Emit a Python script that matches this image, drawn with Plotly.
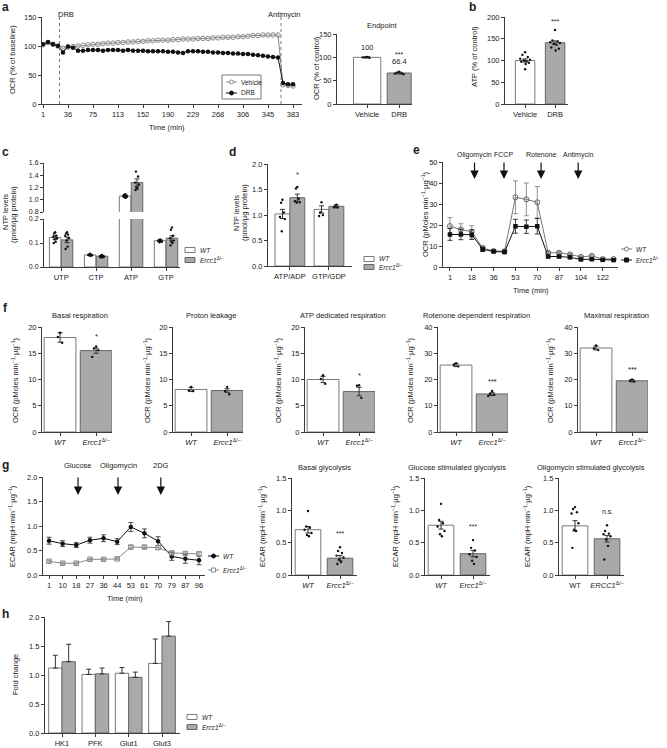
import plotly.graph_objects as go

W, H = 667, 748
FONT = "Liberation Sans, Arial, Helvetica, sans-serif"
AX = "#3c3c3c"
TXT = "#222222"
FS = 7.5
WT_FILL, WT_LINE = "white", "#7a7a7a"
KO_FILL, KO_LINE = "#a9a9a9", "#666666"
KO = "<i>Ercc1</i><sup>Δ/−</sup>"
WT = "<i>WT</i>"

# ---------------- DATA ----------------
# a : OCR time course (% of baseline), one reading per index
a_tick_labels = ["1", "36", "75", "113", "152", "190", "229", "268", "306", "345", "383"]
a_vehicle = [102, 106, 103, 100, 96, 98, 99, 100, 101, 102, 103, 103, 104, 105, 105, 106, 106,
             107, 107, 108, 108, 109, 109, 110, 110, 110, 111, 111, 112, 112, 112, 113, 113, 113,
             114, 114, 115, 115, 115, 116, 116, 117, 118, 118, 119, 119, 119, 119, 33, 32, 31]
a_drb = [103, 107, 103, 100, 89, 99, 97, 92, 92, 93, 93, 93, 92, 93, 93, 93, 92, 93, 92, 92,
         92, 91, 91, 91, 91, 90, 90, 89, 88, 91, 91, 91, 90, 90, 89, 89, 88, 88, 87, 87, 86,
         86, 85, 84, 83, 82, 81, 80, 36, 34, 34]
a_event_names = ["DRB", "Antimycin"]
a_event_index = [3.3, 47.6]

end_groups = ["Vehicle", "DRB"]
end_values = [100, 66.4]
end_err = [1.5, 2.0]
end_dots = [[101, 100, 99, 100], [69, 67, 66, 65, 64]]

# b : ATP
b_groups = ["Vehicle", "DRB"]
b_values = [100, 141]
b_err = [3.5, 4.0]
b_dots = [[119, 113, 108, 104, 102, 100, 98, 97, 95, 92, 80],
          [170, 146, 144, 142, 140, 138, 136, 130, 127, 123]]

# c : NTP levels
c_cats = ["UTP", "CTP", "ATP", "GTP"]
c_wt = [0.123, 0.050, 1.06, 0.110]
c_wt_err = [0.008, 0.002, 0.015, 0.004]
c_ko = [0.113, 0.045, 1.28, 0.120]
c_ko_err = [0.012, 0.002, 0.06, 0.010]
c_wt_dots = [[0.145, 0.14, 0.13, 0.125, 0.12, 0.115, 0.105, 0.10],
             [0.055, 0.052, 0.05, 0.05, 0.049, 0.048, 0.047],
             [1.09, 1.08, 1.07, 1.06, 1.05, 1.04, 1.03],
             [0.115, 0.112, 0.11, 0.108, 0.105, 0.103]]
c_ko_dots = [[0.145, 0.14, 0.135, 0.13, 0.12, 0.11, 0.085, 0.075],
             [0.05, 0.048, 0.046, 0.045, 0.043, 0.042, 0.04, 0.04],
             [1.67, 1.46, 1.38, 1.28, 1.25, 1.2, 1.18, 1.16],
             [0.165, 0.155, 0.13, 0.12, 0.11, 0.105, 0.10, 0.09]]

# d : ratios
d_cats = ["ATP/ADP", "GTP/GDP"]
d_wt = [1.02, 1.11]
d_wt_err = [0.09, 0.07]
d_ko = [1.34, 1.17]
d_ko_err = [0.07, 0.03]
d_wt_dots = [[1.30, 1.24, 1.05, 0.96, 0.92, 0.68], [1.25, 1.05, 1.0, 0.98]]
d_ko_dots = [[1.55, 1.52, 1.32, 1.27, 1.25, 1.24], [1.20, 1.17, 1.15, 1.15]]

# e : OCR mito stress test
e_tick_labels = ["1", "18", "36", "53", "70", "87", "104", "122"]
e_wt = [19.5, 17.8, 16.8, 9.0, 7.6, 7.5, 33.2, 32.2, 30.8, 6.8, 6.8, 6.0, 4.8, 5.3, 3.8, 3.8]
e_wt_err = [4.0, 2.8, 2.9, 1.0, 0.6, 0.8, 7.8, 7.8, 7.5, 0.6, 0.5, 0.5, 0.5, 0.5, 0.3, 0.3]
e_ko = [15.5, 15.5, 15.4, 8.4, 7.4, 7.1, 19.4, 19.2, 19.4, 5.0, 5.0, 4.6, 3.6, 3.7, 3.4, 3.3]
e_ko_err = [2.8, 2.5, 2.3, 1.0, 0.5, 0.6, 3.3, 3.2, 3.7, 0.6, 0.6, 0.5, 0.4, 0.4, 0.3, 0.3]
e_inj_names = ["Oligomycin", "FCCP", "Rotenone", "Antimycin"]
e_inj_index = [2.25, 4.95, 8.35, 11.75]

# f : respiration parameters
f_titles = ["Basal respiration", "Proton leakage", "ATP dedicated respiration",
            "Rotenone dependent respiration", "Maximal respiration"]
f_ymax = [20, 20, 20, 40, 40]
f_wt = [18.0, 8.1, 10.0, 25.5, 32.0]
f_wt_err = [0.9, 0.4, 0.6, 0.6, 0.7]
f_ko = [15.5, 7.9, 7.7, 14.5, 19.5]
f_ko_err = [0.5, 0.35, 0.8, 0.6, 0.4]
f_wt_dots = [[18.9, 18.1, 17.0], [8.6, 7.9, 7.8], [10.8, 10.1, 9.2], [26.2, 25.5, 25.0], [33.0, 31.8, 31.2]]
f_ko_dots = [[16.3, 15.9, 15.6, 14.3], [8.6, 7.8, 7.2], [8.9, 8.8, 6.5], [15.6, 14.5, 14.2, 13.7], [20.0, 19.5, 19.2]]
f_sig = ["*", "", "*", "***", "***"]

# g : ECAR
g_tick_labels = ["1", "10", "18", "27", "36", "44", "53", "61", "70", "79", "87", "96"]
g_wt = [0.70, 0.64, 0.61, 0.71, 0.75, 0.68, 0.98, 0.85, 0.69, 0.38, 0.33, 0.30]
g_wt_err = [0.07, 0.06, 0.05, 0.06, 0.07, 0.06, 0.09, 0.09, 0.09, 0.08, 0.09, 0.09]
g_ko = [0.28, 0.24, 0.24, 0.32, 0.32, 0.33, 0.57, 0.57, 0.56, 0.45, 0.44, 0.43]
g_ko_err = [0.02, 0.02, 0.02, 0.02, 0.02, 0.02, 0.03, 0.03, 0.04, 0.03, 0.03, 0.04]
g_inj_names = ["Glucose", "Oligomycin", "2DG"]
g_inj_index = [2.13, 5.06, 8.2]

gb_titles = ["Basal glycolysis", "Glucose stimulated glycolysis", "Oligomycin stimulated glycolysis"]
gb_wt = [0.70, 0.77, 0.76]
gb_wt_err = [0.05, 0.06, 0.08]
gb_ko = [0.26, 0.33, 0.56]
gb_ko_err = [0.04, 0.05, 0.05]
gb_wt_dots = [[0.99, 0.75, 0.73, 0.70, 0.65, 0.62, 0.60],
              [1.10, 0.85, 0.80, 0.75, 0.68, 0.63, 0.60],
              [1.05, 1.02, 0.97, 0.95, 0.80, 0.70, 0.68, 0.42]]
gb_ko_dots = [[0.43, 0.37, 0.34, 0.30, 0.27, 0.24, 0.20, 0.17],
              [0.54, 0.42, 0.38, 0.32, 0.28, 0.22, 0.17],
              [0.77, 0.68, 0.64, 0.63, 0.60, 0.55, 0.45, 0.24]]
gb_sig = ["***", "***", "n.s."]
gb_xlabels = [[WT, KO], [WT, KO], ["WT", "<i>ERCC1</i><sup>Δ/−</sup>"]]

# h : fold change
h_cats = ["HK1", "PFK", "Glut1", "Glut3"]
h_wt = [1.12, 1.01, 1.03, 1.20]
h_wt_err = [0.22, 0.09, 0.10, 0.42]
h_ko = [1.23, 1.02, 0.96, 1.67]
h_ko_err = [0.30, 0.10, 0.09, 0.25]

# ---------------- HELPERS ----------------
fig = go.Figure()
layout = {}
annotations = []
shapes = []


def X(p):
    return p / W


def Y(p):
    return 1 - p / H


def xr(n):
    return "x" if n == 1 else f"x{n}"


def yr(n):
    return "y" if n == 1 else f"y{n}"


def xk(n):
    return "xaxis" if n == 1 else f"xaxis{n}"


def yk(n):
    return "yaxis" if n == 1 else f"yaxis{n}"


BASE = dict(showline=True, linecolor=AX, linewidth=1, ticks="outside", ticklen=3,
            tickwidth=1, tickcolor=AX, showgrid=False, zeroline=False, fixedrange=True,
            automargin=False,
            tickfont=dict(size=FS, color=TXT, family=FONT))


def axes(n, x0, x1, ytop, ybot, xrange, yrange, xtv=None, xtt=None, ytv=None, ytt=None,
         yfmt=None, xfont=FS):
    xa = dict(BASE, domain=[X(x0), X(x1)], range=xrange, anchor=yr(n))
    xa["tickfont"] = dict(size=xfont, color=TXT, family=FONT)
    if xtv is not None:
        xa.update(tickmode="array", tickvals=xtv, ticktext=xtt)
    ya = dict(BASE, domain=[Y(ybot), Y(ytop)], range=yrange, anchor=xr(n))
    if ytv is not None:
        ya.update(tickmode="array", tickvals=ytv)
        if ytt is not None:
            ya["ticktext"] = ytt
    if yfmt:
        ya["tickformat"] = yfmt
    layout[xk(n)] = xa
    layout[yk(n)] = ya


def txt(x, y, s, size=FS, angle=0, bold=False, xanchor="center", color=TXT):
    if bold:
        s = f"<b>{s}</b>"
    annotations.append(dict(x=X(x), y=Y(y), xref="paper", yref="paper", text=s, showarrow=False,
                            textangle=angle, xanchor=xanchor, yanchor="middle",
                            font=dict(size=size, family=FONT, color=color)))


def bar(n, xs, vals, errs, fill, line, width, sym=True, ny=None):
    yax = yr(ny if ny else n)
    ey = dict(type="data", array=errs, thickness=1, width=2.5, color="#333")
    if not sym:
        ey.update(symmetric=False, arrayminus=[0] * len(errs))
    fig.add_trace(go.Bar(x=xs, y=vals, width=width, xaxis=xr(n), yaxis=yax,
                         marker=dict(color=fill, line=dict(color=line, width=1)),
                         error_y=ey, showlegend=False))


JIT = [0, -0.5, 0.5, -0.9, 0.9, -0.25, 0.25, -0.7, 0.7, 0.1]


def dots(n, center, vals, spread, ny=None):
    xs = [center + JIT[i % len(JIT)] * spread for i in range(len(vals))]
    fig.add_trace(go.Scatter(x=xs, y=vals, mode="markers", xaxis=xr(n), yaxis=yr(ny if ny else n),
                             marker=dict(size=2.4, color="#111"), showlegend=False, hoverinfo="skip"))


def sig(n, x, y, s, size=FS, anchor="bottom"):
    annotations.append(dict(x=x, y=y, xref=xr(n), yref=yr(n), text=s, showarrow=False,
                            yanchor=anchor, font=dict(size=size, family=FONT, color=TXT)))


def arrow(n, x, ytip, length=18):
    annotations.append(dict(x=x, y=Y(ytip), xref=xr(n), yref="paper", text="", showarrow=True,
                            ax=0, ay=-length, arrowhead=2, arrowsize=1.4, arrowwidth=1.2,
                            arrowcolor="#111"))


# legend keys drawn as decorations (pixel positions of the key, not data)
def key_line(x, y, label, color, symbol, filled):
    shapes.append(dict(type="line", xref="paper", yref="paper", x0=X(x), x1=X(x + 11),
                       y0=Y(y), y1=Y(y), line=dict(color=color, width=1)))
    r = 2
    shp = "circle" if symbol == "circle" else "rect"
    shapes.append(dict(type=shp, xref="paper", yref="paper", x0=X(x + 5.5 - r), x1=X(x + 5.5 + r),
                       y0=Y(y + r), y1=Y(y - r), line=dict(color=color, width=1),
                       fillcolor=color if filled else "white"))
    annotations.append(dict(x=X(x + 13), y=Y(y), xref="paper", yref="paper", text=label,
                            showarrow=False, xanchor="left", yanchor="middle",
                            font=dict(size=6.5, family=FONT, color=TXT)))


def key_box(x, y, label, fill, line):
    shapes.append(dict(type="rect", xref="paper", yref="paper", x0=X(x), x1=X(x + 10),
                       y0=Y(y + 2.5), y1=Y(y - 2.5), line=dict(color=line, width=1), fillcolor=fill))
    annotations.append(dict(x=X(x + 13), y=Y(y), xref="paper", yref="paper", text=label,
                            showarrow=False, xanchor="left", yanchor="middle",
                            font=dict(size=6.5, family=FONT, color=TXT)))


OCR_T = "OCR (pMoles min<sup>−1</sup>·µg<sup>−1</sup>)"
ECAR_T = "ECAR (mpH·min<sup>−1</sup>·µg<sup>−1</sup>)"

# ---------------- PANEL a ----------------
idx = list(range(len(a_vehicle)))
axes(1, 42, 302, 17, 104, [-0.2, 51.8], [0, 150],
     xtv=list(range(0, len(a_tick_labels) * 5, 5)), xtt=a_tick_labels, ytv=[0, 50, 100, 150])
fig.add_trace(go.Scatter(x=idx, y=a_vehicle, mode="lines+markers", showlegend=False,
                         line=dict(color="#8a8a8a", width=1),
                         marker=dict(symbol="circle-open", size=4.5, color="#8a8a8a", line=dict(width=1))))
fig.add_trace(go.Scatter(x=idx, y=a_drb, mode="lines+markers", showlegend=False,
                         line=dict(color="#111", width=1),
                         marker=dict(symbol="circle", size=4.5, color="#111")))
for nm, ev in zip(a_event_names, a_event_index):
    shapes.append(dict(type="line", xref="x", yref="paper", x0=ev, x1=ev, y0=Y(104), y1=Y(13),
                       line=dict(color="#777", width=1, dash="dot")))
    annotations.append(dict(x=ev, y=Y(8), xref="x", yref="paper", text=nm, showarrow=False,
                            xanchor="center", xshift=6 if nm == "DRB" else 3,
                            font=dict(size=FS, family=FONT, color=TXT)))
shapes.append(dict(type="rect", xref="paper", yref="paper", x0=X(222), x1=X(261), y0=Y(99), y1=Y(75),
                   line=dict(color="#777", width=1), fillcolor="white"))
key_line(226, 82, "Vehicle", "#8a8a8a", "circle", False)
key_line(226, 93, "DRB", "#111", "circle", True)
txt(13, 60, "OCR (% of baseline)", angle=-90)
txt(167, 127, "Time (min)")
txt(6, 7, "a", size=12, bold=True)

# endpoint
axes(2, 337, 412, 34, 104, [-0.94, 1.4], [0, 150], xtv=[0, 1], xtt=end_groups,
     ytv=[0, 50, 100, 150])
bar(2, [0], [end_values[0]], [end_err[0]], WT_FILL, WT_LINE, 0.85)
bar(2, [1], [end_values[1]], [end_err[1]], KO_FILL, KO_LINE, 0.75)
for i in range(2):
    dots(2, i, end_dots[i], 0.15)
sig(2, 0, 122, "100", anchor="middle")
sig(2, 1, 106, "***", anchor="middle", size=7)
sig(2, 1, 90, "66.4", anchor="middle")
txt(382, 25, "Endpoint")
txt(316, 68, "OCR (% of control)", angle=-90)

# ---------------- PANEL b ----------------
axes(3, 505, 568, 17, 104, [-0.67, 1.43], [0, 200], xtv=[0, 1], xtt=b_groups,
     ytv=[0, 50, 100, 150, 200])
bar(3, [0], [b_values[0]], [b_err[0]], WT_FILL, WT_LINE, 0.65)
bar(3, [1], [b_values[1]], [b_err[1]], KO_FILL, KO_LINE, 0.65)
for i in range(2):
    dots(3, i, b_dots[i], 0.18)
sig(3, 1, 190, "***", anchor="middle", size=7)
txt(475, 57, "ATP (% of control)", angle=-90)
txt(472, 7, "b", size=12, bold=True)

# ---------------- PANEL c (broken axis) ----------------
cx = list(range(len(c_cats)))
axes(4, 44, 180, 219, 267, [-0.49, 3.4], [0, 0.2], xtv=cx, xtt=c_cats,
     ytv=[0, 0.1, 0.2], yfmt=".1f")
layout["yaxis4"]["tickfont"] = dict(size=7, color=TXT, family=FONT)
layout["yaxis5"] = dict(BASE, domain=[Y(212), Y(163)], range=[0.8, 1.6], anchor="x4",
                        tickmode="array", tickvals=[0.8, 1.0, 1.2, 1.4, 1.6], tickformat=".1f",
                        tickfont=dict(size=7, color=TXT, family=FONT))
off, bw = 0.17, 0.33
for i in range(len(c_cats)):
    for ny in (4, 5):
        if ny == 5 and c_wt[i] < 0.8:
            continue
        bar(4, [i - off], [c_wt[i]], [c_wt_err[i]], WT_FILL, WT_LINE, bw, ny=ny)
        bar(4, [i + off], [c_ko[i]], [c_ko_err[i]], KO_FILL, KO_LINE, bw, ny=ny)
    ny = 5 if c_wt[i] >= 0.8 else 4
    dots(4, i - off, c_wt_dots[i], 0.06, ny=ny)
    dots(4, i + off, c_ko_dots[i], 0.06, ny=ny)
annotations.append(dict(x=2 + off, y=1.69, xref="x4", yref="y5", text="*", showarrow=False,
                        yanchor="bottom", font=dict(size=FS, family=FONT, color=TXT)))
key_box(185, 250, WT, WT_FILL, WT_LINE)
key_box(185, 260, KO, KO_FILL, KO_LINE)
txt(5, 212, "NTP levels", angle=-90)
txt(14, 215, "(pmol/µg protein)", angle=-90)
txt(5, 152, "c", size=12, bold=True)

# ---------------- PANEL d ----------------
axes(6, 268, 352, 164, 266, [-0.56, 1.59], [0, 2.0], xtv=[0, 1], xtt=d_cats,
     ytv=[0, 0.5, 1.0, 1.5, 2.0], yfmt=".1f")
doff, dbw = 0.19, 0.38
for i in range(len(d_cats)):
    bar(6, [i - doff], [d_wt[i]], [d_wt_err[i]], WT_FILL, WT_LINE, dbw)
    bar(6, [i + doff], [d_ko[i]], [d_ko_err[i]], KO_FILL, KO_LINE, dbw)
    dots(6, i - doff, d_wt_dots[i], 0.07)
    dots(6, i + doff, d_ko_dots[i], 0.07)
sig(6, doff, 1.66, "*")
key_box(364, 259, WT, WT_FILL, WT_LINE)
key_box(364, 267, KO, KO_FILL, KO_LINE)
txt(237, 213, "NTP levels", angle=-90)
txt(245, 213, "(pmol/µg protein)", angle=-90)
txt(233, 152, "d", size=12, bold=True)

# ---------------- PANEL e ----------------
ex = list(range(len(e_wt)))
axes(7, 443, 618, 162, 267, [-0.64, 15.4], [0, 50],
     xtv=list(range(0, len(e_tick_labels) * 2, 2)), xtt=e_tick_labels,
     ytv=[0, 10, 20, 30, 40, 50])
fig.add_trace(go.Scatter(x=ex, y=e_wt, mode="lines+markers", xaxis="x7", yaxis="y7", showlegend=False,
                         line=dict(color="#777", width=1),
                         marker=dict(symbol="circle-open", size=5, color="#666", line=dict(width=1)),
                         error_y=dict(type="data", array=e_wt_err, thickness=0.8, width=2.5, color="#777")))
fig.add_trace(go.Scatter(x=ex, y=e_ko, mode="lines+markers", xaxis="x7", yaxis="y7", showlegend=False,
                         line=dict(color="#111", width=1),
                         marker=dict(symbol="square", size=4.5, color="#111"),
                         error_y=dict(type="data", array=e_ko_err, thickness=0.8, width=2.5, color="#111")))
for nm, ev in zip(e_inj_names, e_inj_index):
    arrow(7, ev, 179)
    annotations.append(dict(x=ev, y=Y(149), xref="x7", yref="paper", text=nm, showarrow=False,
                            font=dict(size=7, family=FONT, color=TXT)))
key_line(621, 249, WT, "#777", "circle", False)
key_line(621, 260, KO, "#111", "square", True)
txt(425, 214, OCR_T, angle=-90)
txt(531, 290, "Time (min)")
txt(416, 150, "e", size=12, bold=True)

# ---------------- PANEL f ----------------
f_left = [42, 173, 305, 438, 578]
f_ylab = [15, 147, 278, 410, 550]
for j in range(5):
    n = 8 + j
    L = f_left[j]
    step = 5 if f_ymax[j] == 20 else 10
    axes(n, L, L + 70, 327, 432, [-0.5, 1.44], [0, f_ymax[j]], xtv=[0, 1], xtt=[WT, KO],
         ytv=list(range(0, f_ymax[j] + 1, step)))
    bar(n, [0], [f_wt[j]], [f_wt_err[j]], WT_FILL, WT_LINE, 0.88)
    bar(n, [1], [f_ko[j]], [f_ko_err[j]], KO_FILL, KO_LINE, 0.88)
    dots(n, 0, f_wt_dots[j], 0.12)
    dots(n, 1, f_ko_dots[j], 0.12)
    if f_sig[j]:
        sig(n, 1, max(f_ko_dots[j]) + f_ymax[j] * 0.03, f_sig[j])
    txt(L + 38, 315, f_titles[j])
    txt(f_ylab[j], 380, OCR_T, angle=-90)
txt(5, 308, "f", size=12, bold=True)

# ---------------- PANEL g (line) ----------------
gx = list(range(len(g_wt)))
axes(13, 43, 205, 477, 575, [-0.44, 11.44], [0, 2.0], xtv=gx, xtt=g_tick_labels,
     ytv=[0, 0.5, 1.0, 1.5, 2.0], yfmt=".1f")
fig.add_trace(go.Scatter(x=gx, y=g_wt, mode="lines+markers", xaxis="x13", yaxis="y13", showlegend=False,
                         line=dict(color="#111", width=1),
                         marker=dict(symbol="circle", size=4.5, color="#111"),
                         error_y=dict(type="data", array=g_wt_err, thickness=0.8, width=2.5, color="#222")))
fig.add_trace(go.Scatter(x=gx, y=g_ko, mode="lines+markers", xaxis="x13", yaxis="y13", showlegend=False,
                         line=dict(color="#888", width=1),
                         marker=dict(symbol="square-open", size=4.5, color="#888", line=dict(width=1)),
                         error_y=dict(type="data", array=g_ko_err, thickness=0.8, width=2.5, color="#888")))
for nm, ev in zip(g_inj_names, g_inj_index):
    arrow(13, ev, 495, length=19)
    annotations.append(dict(x=ev, y=Y(465), xref="x13", yref="paper", text=nm, showarrow=False,
                            font=dict(size=FS, family=FONT, color=TXT)))
key_line(208, 556, WT, "#111", "circle", True)
key_line(208, 570, KO, "#888", "square", False)
txt(12, 526, ECAR_T, angle=-90)
txt(125, 598, "Time (min)")
txt(6, 465, "g", size=12, bold=True)

# ---------------- PANEL g (bars) ----------------
gb_left = [292, 425, 559]
gb_ylab = [262, 395, 527]
for j in range(3):
    n = 14 + j
    L = gb_left[j]
    axes(n, L, L + 65, 478, 575, [-0.5, 1.53], [0, 1.5], xtv=[0, 1], xtt=gb_xlabels[j],
         ytv=[0, 0.5, 1.0, 1.5], yfmt=".1f")
    bar(n, [0], [gb_wt[j]], [gb_wt_err[j]], WT_FILL, WT_LINE, 0.8)
    bar(n, [1], [gb_ko[j]], [gb_ko_err[j]], KO_FILL, KO_LINE, 0.8)
    dots(n, 0, gb_wt_dots[j], 0.12)
    dots(n, 1, gb_ko_dots[j], 0.12)
    sig(n, 1, max(gb_ko_dots[j]) + 0.13, gb_sig[j], size=7)
    txt(L + 32, 467, gb_titles[j])
    txt(gb_ylab[j], 526, ECAR_T, angle=-90)

# ---------------- PANEL h ----------------
hx = list(range(len(h_cats)))
axes(17, 45, 180, 617, 733, [-0.51, 3.54], [0, 2.0], xtv=hx, xtt=h_cats,
     ytv=[0, 0.5, 1.0, 1.5, 2.0], yfmt=".1f")
hoff, hbw = 0.2, 0.4
for i in range(len(h_cats)):
    bar(17, [i - hoff], [h_wt[i]], [h_wt_err[i]], WT_FILL, WT_LINE, hbw, sym=False)
    bar(17, [i + hoff], [h_ko[i]], [h_ko_err[i]], KO_FILL, KO_LINE, hbw, sym=False)
key_box(187, 717, WT, WT_FILL, WT_LINE)
key_box(187, 727, KO, KO_FILL, KO_LINE)
txt(15, 675, "Fold change", angle=-90)
txt(6, 614, "h", size=12, bold=True)

fig.update_layout(width=W, height=H, margin=dict(l=0, r=0, t=0, b=0), autosize=False,
                  paper_bgcolor="white", plot_bgcolor="white", barmode="overlay",
                  showlegend=False,
                  font=dict(family=FONT, size=FS, color=TXT),
                  annotations=annotations, shapes=shapes, **layout)
fig.write_html("out.html", config={"displayModeBar": False, "staticPlot": True},
               post_script="document.body.style.margin='0px';document.body.style.overflow='hidden';")
